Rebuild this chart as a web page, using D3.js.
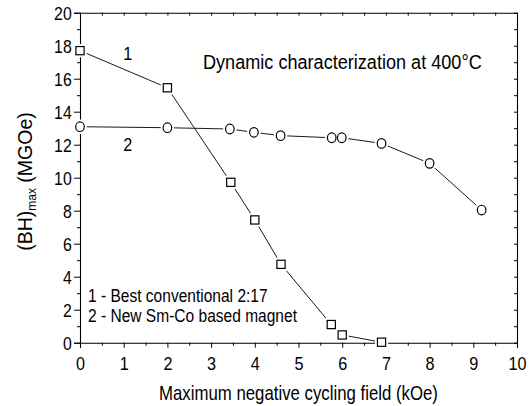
<!DOCTYPE html>
<html>
<head>
<meta charset="utf-8">
<script src="https://cdn.jsdelivr.net/npm/d3@7"></script>
<style>
  html, body { margin: 0; padding: 0; background: #fff; }
  svg { display: block; font-family: "Liberation Sans", Arial, sans-serif; }
</style>
</head>
<body>
<svg id="chart" width="531" height="406"></svg>
<script>
// ---- data ----
const xTickValues = [0, 1, 2, 3, 4, 5, 6, 7, 8, 9, 10];
const yTickValues = [0, 2, 4, 6, 8, 10, 12, 14, 16, 18, 20];
const series1X = [0, 2, 3.45, 4, 4.6, 5.75, 6, 6.9];
const series1Y = [17.7, 15.45, 9.72, 7.44, 4.75, 1.1, 0.47, 0.03];
const series2X = [0, 2, 3.43, 3.98, 4.59, 5.76, 5.99, 6.9, 8.0, 9.19];
const series2Y = [13.09, 13.03, 12.95, 12.75, 12.55, 12.42, 12.42, 12.08, 10.87, 8.04];
const chartTitle = "Dynamic characterization at 400°C";
const xTitle = "Maximum negative cycling field (kOe)";
const legendLines = ["1 - Best conventional 2:17", "2 - New Sm-Co based magnet"];
const seriesLabels = [{text: "1", x: 1.09, y: 17.13}, {text: "2", x: 1.09, y: 11.62}];

// ---- layout ----
const svg = d3.select("#chart");
const pLeft = 80, pRight = 517, pTop = 12.7, pBottom = 342.7;
const x = d3.scaleLinear().domain([0, 10]).range([pLeft, pRight]);
const y = d3.scaleLinear().domain([0, 20]).range([pBottom, pTop]);

// helper: text horizontally condensed around its anchor point
function condText(sel, tx, ty, size, sx, anchor, str) {
  return sel.append("text")
    .attr("transform", `translate(${tx},${ty}) scale(${sx},1)`)
    .attr("font-size", size).attr("text-anchor", anchor || "start")
    .attr("fill", "#000").text(str);
}

// bottom axis (major + minor)
const gB = svg.append("g").attr("transform", `translate(0,${pBottom})`)
  .call(d3.axisBottom(x).tickValues(xTickValues).tickSize(5).tickFormat(d3.format("d")));
gB.selectAll(".tick text")
  .attr("y", null).attr("dy", null)
  .attr("transform", "translate(0,27.3) scale(0.9,1)")
  .attr("font-size", 18);
svg.append("g").attr("transform", `translate(0,${pBottom})`)
  .call(d3.axisBottom(x).tickValues(d3.range(0.5, 10, 1)).tickSize(3).tickFormat(""))
  .select(".domain").remove();

// left axis
const gL = svg.append("g").attr("transform", `translate(${pLeft},0)`)
  .call(d3.axisLeft(y).tickValues(yTickValues).tickSize(6).tickFormat(d3.format("d")));
gL.selectAll(".tick text")
  .attr("x", null).attr("dy", "0.35em")
  .attr("transform", "translate(-8.3,0) scale(0.88,1)")
  .attr("font-size", 18);
svg.append("g").attr("transform", `translate(${pLeft},0)`)
  .call(d3.axisLeft(y).tickValues(d3.range(1, 20, 2)).tickSize(3).tickFormat(""))
  .select(".domain").remove();

// top axis (inward ticks)
svg.append("g").attr("transform", `translate(0,${pTop})`)
  .call(d3.axisTop(x).tickValues(d3.range(0, 10.01, 0.5)).tickSizeInner(-3).tickSizeOuter(0).tickFormat(""));
// right axis (inward ticks)
svg.append("g").attr("transform", `translate(${pRight},0)`)
  .call(d3.axisRight(y).tickValues(d3.range(0, 20.01, 1)).tickSizeInner(-3).tickSizeOuter(0).tickFormat(""));

svg.selectAll(".domain").attr("stroke", "#000").attr("stroke-width", 1.1);
svg.selectAll(".tick line").attr("stroke", "#000").attr("stroke-width", 1);
svg.selectAll(".tick text").attr("font-family", "Liberation Sans, Arial, sans-serif").attr("fill", "#000");

// ---- lines ----
const line = d3.line().x(d => x(d[0])).y(d => y(d[1]));
const s1 = series1X.map((v, i) => [v, series1Y[i]]);
const s2 = series2X.map((v, i) => [v, series2Y[i]]);
svg.append("path").datum(s1).attr("d", line).attr("fill", "none").attr("stroke", "#000").attr("stroke-width", 0.9);
svg.append("path").datum(s2).attr("d", line).attr("fill", "none").attr("stroke", "#000").attr("stroke-width", 0.9);

// markers: white halo first (gaps), then outlined marker
const sq = 8.2;
const rx = 4.3, ry = 4.8;
function squares(g, stroke, sw) {
  g.selectAll("rect").data(s1).join("rect")
    .attr("x", d => x(d[0]) - sq / 2).attr("y", d => y(d[1]) - sq / 2)
    .attr("width", sq).attr("height", sq)
    .attr("fill", "#fff").attr("stroke", stroke).attr("stroke-width", sw);
}
function circles(g, stroke, sw) {
  g.selectAll("ellipse").data(s2).join("ellipse")
    .attr("cx", d => x(d[0])).attr("cy", d => y(d[1]))
    .attr("rx", rx).attr("ry", ry)
    .attr("fill", "#fff").attr("stroke", stroke).attr("stroke-width", sw);
}
squares(svg.append("g"), "#fff", 5);
circles(svg.append("g"), "#fff", 5);
squares(svg.append("g"), "#000", 1.2);
circles(svg.append("g"), "#000", 1.2);

// ---- texts ----
condText(svg, 203, 69, 20, 0.905, "start", chartTitle);
seriesLabels.forEach(l => {
  condText(svg, x(l.x), y(l.y), 18, 0.9, "middle", l.text);
});
legendLines.forEach((t, i) => {
  condText(svg, 88, 301.5 + i * 20.7, 18.5, 0.84, "start", t);
});
condText(svg, 298.5, 400, 20, 0.84, "middle", xTitle);

const yt = svg.append("text").attr("transform", `translate(31.5,181.5) rotate(-90)`)
  .attr("text-anchor", "middle").attr("font-size", 19.5).attr("fill", "#000");
yt.append("tspan").text("(BH)");
yt.append("tspan").attr("font-size", 12).attr("dy", 4).text("max");
yt.append("tspan").attr("dy", -4).text(" (MGOe)");
</script>
</body>
</html>
